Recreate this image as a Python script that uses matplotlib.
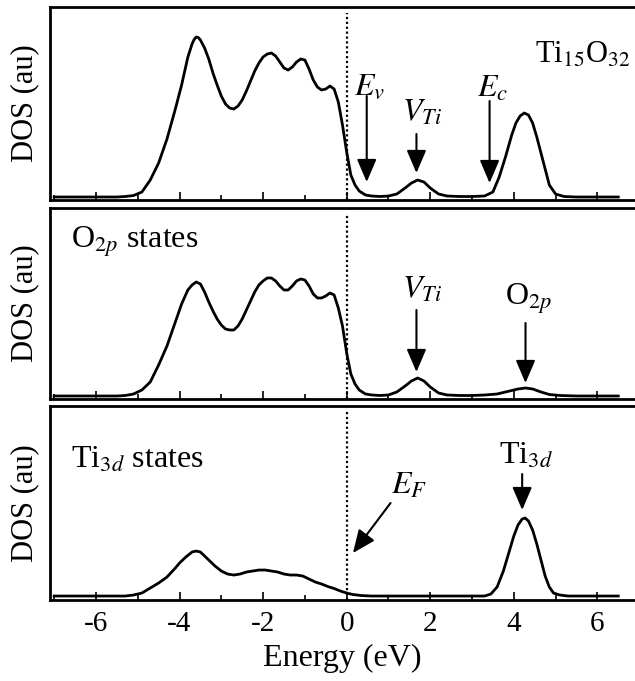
import matplotlib
matplotlib.use('Agg')
from matplotlib import pyplot as plt
from matplotlib.ticker import MultipleLocator

plt.rcParams['font.family'] = 'Liberation Serif'
plt.rcParams['mathtext.fontset'] = 'stix'
plt.rcParams['axes.unicode_minus'] = False

# DOS (arbitrary units), energy in eV
e_top = [-7.0, -5.5, -5.3, -5.1, -4.9, -4.7, -4.5, -4.3, -4.1, -3.95, -3.8, -3.7, -3.65, -3.6,
         -3.55, -3.5, -3.4, -3.3, -3.2, -3.1, -3.0, -2.9, -2.8, -2.7, -2.6, -2.5, -2.4, -2.3,
         -2.2, -2.1, -2.0, -1.9, -1.8, -1.7, -1.6, -1.5, -1.4, -1.3, -1.2, -1.1, -1.0, -0.9,
         -0.8, -0.7, -0.6, -0.5, -0.4, -0.3, -0.2, -0.1, 0.0, 0.1, 0.2, 0.3, 0.45, 0.6, 0.8,
         1.0, 1.2, 1.4, 1.55, 1.7, 1.85, 2.0, 2.2, 2.4, 2.7, 3.0, 3.3, 3.5, 3.65, 3.8, 3.95,
         4.05, 4.15, 4.25, 4.35, 4.45, 4.55, 4.7, 4.85, 5.0, 5.2, 5.5, 6.5]
dos_top = [0, 0, 0.5, 1.5, 5, 17, 34, 58, 88, 112, 140, 153, 157.5, 160,
           159.5, 157, 149, 138, 124, 112, 101, 93, 89, 88, 91, 97, 106, 116,
           126, 134, 140, 143, 144, 141, 135, 129, 127, 130, 135, 138, 137, 128,
           117, 110, 107, 108, 111, 108, 95, 72, 45, 22, 12, 6, 2, 1, 0.5,
           1, 3, 9, 14, 17, 15, 9, 3, 1, 0.5, 0.5, 1, 5, 20, 40, 62,
           74, 81, 84, 82, 74, 60, 36, 12, 3, 0.5, 0, 0]

e_o2p = [-7.0, -5.5, -5.3, -5.1, -4.9, -4.7, -4.5, -4.3, -4.1, -3.95, -3.8, -3.7, -3.6, -3.5,
         -3.4, -3.3, -3.2, -3.1, -3.0, -2.9, -2.8, -2.7, -2.6, -2.5, -2.4, -2.3, -2.2, -2.1,
         -2.0, -1.9, -1.8, -1.7, -1.6, -1.5, -1.4, -1.3, -1.2, -1.1, -1.0, -0.9, -0.8, -0.7,
         -0.6, -0.5, -0.4, -0.3, -0.2, -0.1, 0.0, 0.1, 0.2, 0.3, 0.45, 0.6, 0.8, 1.0, 1.2,
         1.4, 1.55, 1.7, 1.85, 2.0, 2.2, 2.4, 2.7, 3.0, 3.3, 3.6, 3.9, 4.1, 4.28, 4.45,
         4.65, 4.85, 5.1, 5.5, 6.5]
dos_o2p = [0, 0, 0.5, 2, 6, 14, 31, 50, 74, 92, 106, 111, 114, 112,
           104, 94, 85, 77, 71, 67, 66, 66, 70, 77, 86, 95, 104, 111,
           115, 118, 118, 115, 110, 106, 106, 110, 115, 117, 116, 110, 102, 98,
           98, 100, 103, 101, 88, 70, 43, 22, 12, 6, 2, 1, 0.5, 1, 4,
           10, 15, 18, 15, 9, 3, 1, 0.5, 0.5, 1, 2, 5, 7, 8, 7,
           4, 1.5, 0.5, 0, 0]

e_ti3d = [-7.0, -5.3, -5.1, -4.9, -4.7, -4.5, -4.3, -4.1, -4.0, -3.85, -3.7, -3.6, -3.5, -3.4,
          -3.3, -3.15, -3.0, -2.85, -2.7, -2.55, -2.4, -2.25, -2.1, -1.95, -1.8, -1.65, -1.5,
          -1.35, -1.2, -1.05, -0.9, -0.75, -0.6, -0.45, -0.3, -0.15, 0.0, 0.15, 0.35, 0.6,
          3.3, 3.45, 3.6, 3.75, 3.9, 4.0, 4.1, 4.2, 4.27, 4.35, 4.45, 4.55, 4.65, 4.75, 4.85,
          4.95, 5.1, 5.3, 6.5]
dos_ti3d = [0, 0, 1, 3, 8, 13, 19, 28, 33, 39, 44, 45, 44, 40,
            36, 30, 25, 22, 21, 22, 24, 25, 26, 26, 25, 24, 22,
            21, 21, 20, 17, 14, 12, 9.5, 7.5, 5, 3, 1.5, 0.5, 0,
            0, 2, 9, 25, 46, 60, 71, 77, 78, 75, 66, 52, 36, 20, 9,
            3, 1, 0, 0]

curves = [(e_top, dos_top), (e_o2p, dos_o2p), (e_ti3d, dos_ti3d)]
ylims = [(-3, 190), (-3, 188), (-4, 190)]
# axes rectangles in figure fraction (right edge runs to the figure edge)
rects = [[0.0787, 0.7063, 0.9213, 0.2834],
         [0.0787, 0.4141, 0.9213, 0.2805],
         [0.0787, 0.1189, 0.9213, 0.2849]]

fig = plt.figure(figsize=(6.35, 6.81), dpi=100)
axes = []
for i in range(3):
    ax = fig.add_axes(rects[i])
    e, d = curves[i]
    ax.plot(e, d, color='black', lw=2.0, solid_joinstyle='round')
    ax.axvline(0, ymin=0.0, ymax=0.97, color='black', ls=(0, (1, 1.2)), lw=1.6)
    ax.set_xlim(-7.1, 6.9)
    ax.set_ylim(*ylims[i])
    ax.set_yticks([])
    ax.xaxis.set_major_locator(MultipleLocator(2))
    ax.xaxis.set_minor_locator(MultipleLocator(1))
    ax.tick_params(axis='x', which='major', direction='in', length=6, width=1.2,
                   labelsize=21, pad=8)
    ax.tick_params(axis='x', which='minor', direction='in', length=3.5, width=1.2)
    ax.spines['right'].set_visible(False)
    for s in ['left', 'top', 'bottom']:
        ax.spines[s].set_linewidth(2.0)
    ax.set_ylabel('DOS (au)', fontsize=22)
    if i < 2:
        ax.tick_params(axis='x', labelbottom=False)
    ax.yaxis.set_label_coords(-0.018, 0.5)
    axes.append(ax)

arr = dict(arrowstyle='-|>,head_length=0.7,head_width=0.3', color='black', lw=1.5,
           mutation_scale=20, shrinkA=0, shrinkB=0)

# top panel
ax = axes[0]
ax.text(6.8, 142, 'Ti$_{15}$O$_{32}$', fontsize=22, ha='right', va='center')
ax.text(0.55, 110, '$E_v$', fontsize=23, ha='center', va='center')
ax.annotate('', xy=(0.48, 15), xytext=(0.48, 101), arrowprops=arr)
ax.text(1.8, 84, '$V_{Ti}$', fontsize=23, ha='center', va='center')
ax.annotate('', xy=(1.67, 24), xytext=(1.67, 63), arrowprops=arr)
ax.text(3.5, 108, '$E_c$', fontsize=23, ha='center', va='center')
ax.annotate('', xy=(3.42, 14), xytext=(3.42, 96), arrowprops=arr)

# middle panel
ax = axes[1]
ax.text(-6.6, 154, 'O$_{2p}$ states', fontsize=23, ha='left', va='center')
ax.text(1.8, 106, '$V_{Ti}$', fontsize=23, ha='center', va='center')
ax.annotate('', xy=(1.67, 24), xytext=(1.67, 86), arrowprops=arr)
ax.text(4.35, 97, 'O$_{2p}$', fontsize=23, ha='center', va='center')
ax.annotate('', xy=(4.28, 13), xytext=(4.28, 73), arrowprops=arr)

# bottom panel
ax = axes[2]
ax.text(-6.6, 136, 'Ti$_{3d}$ states', fontsize=23, ha='left', va='center')
ax.text(1.5, 110, '$E_F$', fontsize=23, ha='center', va='center')
ax.annotate('', xy=(0.15, 43), xytext=(1.05, 93), arrowprops=arr)
ax.text(4.3, 140, 'Ti$_{3d}$', fontsize=23, ha='center', va='center')
ax.annotate('', xy=(4.2, 86), xytext=(4.2, 122), arrowprops=arr)
ax.set_xlabel('Energy (eV)', fontsize=23, labelpad=5)

plt.savefig('out.png', dpi=100)
